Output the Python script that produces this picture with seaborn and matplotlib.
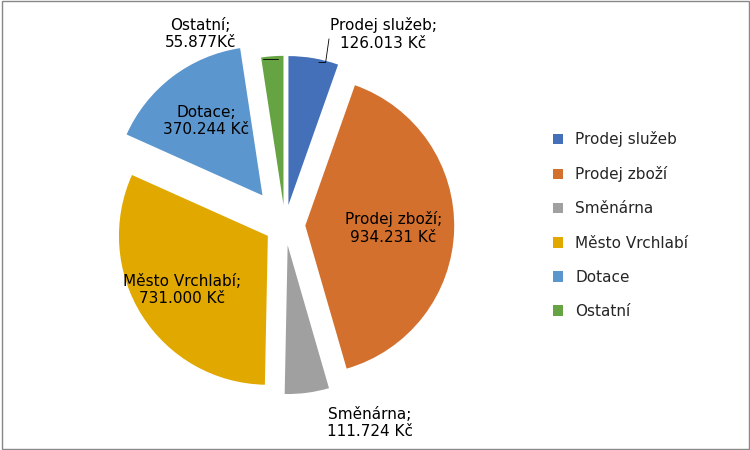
import numpy as np
import matplotlib
matplotlib.use("Agg")
import matplotlib.pyplot as plt
import seaborn as sns

categories = ["Prodej služeb", "Prodej zboží", "Směnárna", "Město Vrchlabí", "Dotace", "Ostatní"]
values = [126013, 934231, 111724, 731000, 370244, 55877]
value_labels = ["126.013 Kč", "934.231 Kč", "111.724 Kč", "731.000 Kč", "370.244 Kč", "55.877Kč"]
colors = ["#4470BA", "#D4702E", "#A0A0A0", "#E1A800", "#5B96CE", "#66A343"]

sns.set_style("white")
fig = plt.figure(figsize=(7.5, 4.5), dpi=100)
ax = fig.add_axes([0.06, 0.03, 0.64, 0.94])

explode = [0.12, 0.12, 0.12, 0.12, 0.22, 0.12]
wedges, _ = ax.pie(values, colors=colors, startangle=90, counterclock=False,
                   explode=explode, radius=0.88,
                   wedgeprops={"linewidth": 0})
ax.set_aspect("equal")
ax.set_xlim(-1.25, 1.25)
ax.set_ylim(-1.25, 1.25)

# label positions: inside slices or fixed outside spots
label_r = [1.25, 0.52, 1.28, 0.6, 0.55, 1.3]
fixed = {"Prodej služeb": (0.58, 1.13), "Ostatní": (-0.5, 1.13), "Směnárna": (0.5, -1.17)}
for w, ex, r, cat, lab in zip(wedges, explode, label_r, categories, value_labels):
    th = np.deg2rad((w.theta1 + w.theta2) / 2)
    x, y = (r + ex) * np.cos(th), (r + ex) * np.sin(th)
    if cat in fixed:
        x, y = fixed[cat]
    ax.text(x, y, f"{cat};\n{lab}", ha="center", va="center", fontsize=11,
            family="DejaVu Sans", color="black")

ax.plot([0.2, 0.24, 0.26], [0.96, 0.96, 1.1], color="black", lw=0.6)
ax.plot([-0.13, -0.04], [0.98, 0.98], color="black", lw=0.6)

ax.legend(wedges, categories, loc="center left", bbox_to_anchor=(1.1, 0.5),
          frameon=False, fontsize=11, handlelength=0.7, handleheight=0.7,
          labelspacing=1.25)

fig.patches.append(plt.Rectangle((0.002, 0.002), 0.996, 0.996, transform=fig.transFigure,
                                 fill=False, edgecolor="#888888", lw=1))
fig.savefig("out.png", dpi=100)
